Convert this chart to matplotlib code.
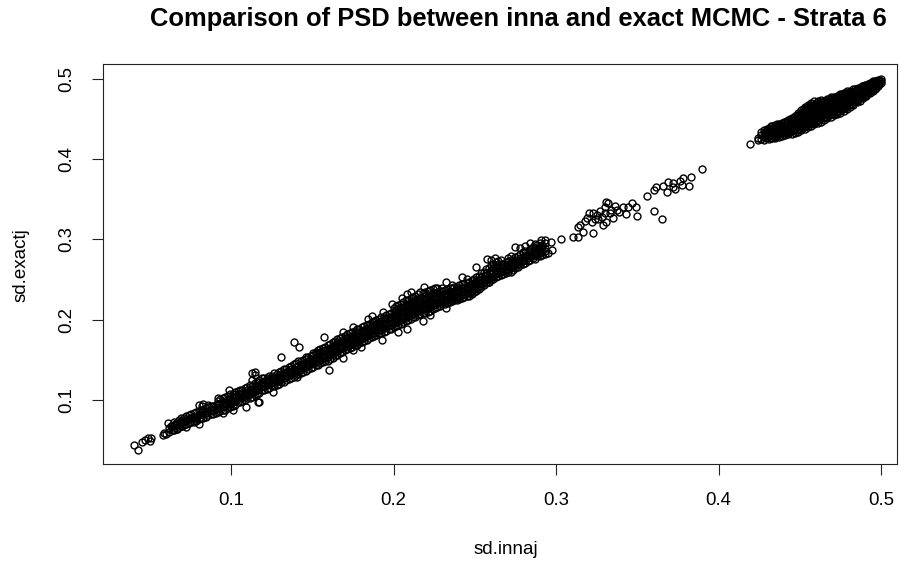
import matplotlib
matplotlib.use("Agg")
import matplotlib.pyplot as plt

plt.rcParams['font.family'] = ['Liberation Sans', 'DejaVu Sans']

title = "Comparison of PSD between inna and exact MCMC - Strata 6"
xlabel = "sd.innaj"
ylabel = "sd.exactj"
xticks = [0.1, 0.2, 0.3, 0.4, 0.5]
yticks = [0.1, 0.2, 0.3, 0.4, 0.5]

# Sparse points read individually
low_end = [(.040,.044),(.043,.038),(.045,.047),(.047,.050),(.049,.052),(.050,.049),(.051,.053),
           (.058,.056),(.059,.059),(.060,.057),(.063,.068),(.064,.063),(.066,.071),(.067,.064),
           (.069,.074),(.070,.068),(.072,.066),(.109,.091),(.117,.098),(.131,.154),(.139,.172),
           (.113,.133),(.115,.131),(.160,.137),(.082,.092),(.086,.094),(.142,.166),(.157,.178)]
sparse_high = [(.390,.388),(.383,.378),(.382,.367),(.378,.377),(.376,.373),(.3775,.368),(.373,.363),
               (.369,.372),(.372,.370),(.368,.359),(.366,.367),(.3615,.3655),(.360,.362),(.356,.354),
               (.360,.336),(.365,.326),(.350,.329),(.347,.3456),(.349,.341),(.344,.341),(.343,.332),
               (.341,.341),(.331,.347),(.332,.3456),(.330,.341),(.3375,.337),(.335,.327),(.333,.333),
               (.329,.318),(.328,.328),(.325,.331),(.323,.333),(.320,.333),(.319,.327),(.322,.322),
               (.323,.308),(.3165,.3095),(.315,.318),(.3135,.316),(.3135,.303),(.3105,.303),(.303,.300),
               (.297,.297),(.291,.2995),(.2975,.287),(.295,.283),(.327,.336),(.326,.325),(.331,.322),
               (.334,.337),(.339,.334),(.336,.342),(.330,.333),(.324,.326),(.318,.323),(.372,.365)]
# Rings sticking out of the band's edges
band_edge = [(.169,.185),(.175,.191),(.184,.201),(.187,.205),(.1935,.210),(.199,.220),(.205,.227),
             (.208,.232),(.211,.2347),(.219,.241),(.232,.247),(.242,.253),(.251,.266),(.2575,.276),
             (.2625,.277),(.169,.152),(.175,.162),(.180,.166),(.193,.175),(.203,.185),(.208,.1885),
             (.218,.1985),(.2225,.206),(.232,.215),(.239,.227),(.247,.233),(.259,.247),(.061,.071),
             (.080,.094),(.083,.095),(.092,.1025),(.099,.1125),(.115,.135),(.113,.125),(.080,.070),
             (.095,.084),(.101,.0875),(.1165,.0975),(.126,.110),(.1405,.129)]

# Main diagonal band, column by column
band_x = [.062,.065,.068,.071,.074,.077,.080,.083,.086,.089,
          .092,.095,.098,.101,.104,.107,.110,.113,.116,.119,
          .122,.125,.128,.131,.134,.137,.140,.143,.146,.149,
          .152,.155,.158,.161,.164,.167,.170,.173,.176,.179,
          .182,.185,.188,.191,.194,.197,.200,.203,.206,.209,
          .212,.215,.218,.221,.224,.227,.230,.233,.236,.239,
          .242,.245,.248,.251,.254,.257,.260,.263,.266,.269,
          .272,.275,.278,.281,.284,.287,.290,.293]
band_y = [[.060,.065],[.063,.069,.073],[.066,.071,.075],[.069,.074,.078],[.071,.076,.081],
          [.073,.078,.084],[.076,.081,.086],[.078,.083,.088],[.081,.086,.091],[.083,.088,.093],
          [.085,.090,.095,.099],[.087,.092,.097,.102],[.090,.095,.100,.105],[.092,.097,.102,.107],[.097,.102,.107,.111],
          [.099,.104,.109,.113],[.102,.107,.112,.116],[.104,.109,.114,.118],[.108,.113,.118,.123],[.112,.117,.122,.127],
          [.114,.119,.124,.128],[.117,.122,.127,.130],[.119,.124,.129,.132],[.122,.127,.132,.136],[.125,.130,.135,.139],
          [.128,.133,.138,.142],[.131,.136,.141,.146],[.134,.139,.144,.149],[.136,.141,.146,.151,.154],[.140,.145,.150,.155],
          [.143,.148,.152,.157,.160],[.146,.151,.155,.160,.163],[.148,.153,.157,.162,.166],[.151,.156,.160,.165,.170],[.155,.160,.164,.169,.174],
          [.158,.163,.167,.172,.177],[.162,.166,.171,.175,.180],[.165,.169,.174,.178,.183],[.168,.172,.177,.181,.186],[.171,.175,.180,.184,.189],
          [.174,.178,.183,.187,.192],[.177,.181,.186,.190,.195],[.180,.184,.189,.193,.198],[.183,.187,.192,.196,.201],[.185,.190,.195,.199,.204],
          [.188,.193,.198,.202,.207],[.191,.196,.201,.205,.210,.214],[.194,.199,.204,.208,.213,.218],[.197,.202,.207,.211,.216,.222],[.200,.205,.210,.214,.219,.225],
          [.203,.208,.213,.217,.222,.228],[.206,.211,.216,.220,.225,.232],[.208,.213,.218,.222,.227,.233],[.210,.215,.220,.225,.230,.236],[.213,.218,.222,.227,.232,.238],
          [.216,.221,.225,.229,.234,.239],[.219,.223,.227,.231,.236,.240],[.221,.225,.229,.233,.238],[.223,.227,.231,.235,.240,.243],[.225,.229,.233,.237,.241],
          [.227,.231,.235,.239,.244],[.229,.233,.237,.241,.246,.251],[.232,.236,.240,.244,.249],[.236,.240,.244,.248,.253],[.241,.245,.249,.253,.258],
          [.246,.250,.254,.258,.263],[.249,.253,.257,.262,.268,.274],[.253,.257,.261,.266,.272],[.256,.260,.264,.269,.275],[.258,.262,.267,.272],
          [.260,.265,.270,.274,.280],[.264,.268,.273,.278,.291],[.268,.272,.277,.282,.289],[.271,.275,.280,.286,.292],[.275,.279,.283,.288,.295],
          [.276,.281,.285,.290,.294],[.279,.283,.287,.291,.296],[.282,.286,.290,.295,.299]]

# Second, staggered reading of the band
band2_x = [.0635,.0665,.0695,.0725,.0755,.0785,.0815,.0845,.0875,.0905,
           .0935,.0965,.0995,.1025,.1055,.1085,.1115,.1145,.1175,.1205,
           .1235,.1265,.1295,.1325,.1355,.1385,.1415,.1445,.1475,.1505,
           .1535,.1565,.1595,.1625,.1655,.1685,.1715,.1745,.1775,.1805,
           .1835,.1865,.1895,.1925,.1955,.1985,.2015,.2045,.2075,.2105,
           .2135,.2165,.2195,.2225,.2255,.2285,.2315,.2345,.2375,.2405,
           .2435,.2465,.2495,.2525,.2555,.2585,.2615,.2645,.2675,.2705,
           .2735,.2765,.2795,.2825,.2855,.2885,.2915]
band2_y = [[.062,.067],[.064,.070],[.067,.072,.077],[.070,.075,.080],[.072,.077,.082],
           [.074,.079,.085],[.077,.082,.087],[.079,.084,.090],[.082,.087,.092],[.084,.089,.094],
           [.086,.091,.096,.101],[.088,.093,.098,.104],[.091,.096,.101,.107],[.094,.099,.104,.110],[.098,.103,.108,.113],
           [.100,.105,.110,.115],[.103,.108,.113,.119],[.106,.111,.116,.121],[.109,.114,.119,.125],[.113,.118,.123,.128],
           [.115,.120,.125,.130],[.118,.123,.128,.133],[.120,.125,.130,.135],[.123,.128,.133,.138],[.126,.131,.136,.141],
           [.129,.134,.139,.145],[.132,.137,.142,.148],[.135,.140,.145,.150],[.138,.143,.148,.153],[.141,.146,.151,.156,.159],
           [.144,.149,.154,.159,.162],[.147,.152,.157,.161,.165],[.149,.154,.159,.164,.168],[.152,.157,.162,.167,.172],[.156,.161,.166,.171,.176],
           [.160,.165,.169,.174,.179],[.163,.168,.172,.177,.182],[.166,.171,.175,.180,.185],[.169,.174,.178,.183,.188],[.172,.177,.181,.186,.191],
           [.175,.180,.184,.189,.194],[.178,.183,.187,.192,.197],[.181,.186,.190,.195,.200],[.183,.188,.193,.198,.203],[.186,.191,.196,.201,.206],
           [.189,.194,.199,.204,.209],[.192,.197,.202,.207,.212,.217],[.195,.200,.205,.210,.215,.220],[.198,.203,.208,.213,.218,.224],[.201,.206,.211,.216,.221,.227],
           [.204,.209,.214,.219,.224,.230],[.207,.212,.217,.222,.227,.234],[.209,.214,.219,.224,.229,.235],[.211,.216,.221,.226,.231,.237],[.214,.219,.224,.228,.233,.239],
           [.217,.222,.226,.230,.235],[.220,.224,.228,.232,.237],[.222,.226,.230,.234,.239],[.224,.228,.232,.236,.241],[.226,.230,.234,.238,.243],
           [.228,.232,.236,.240,.245],[.230,.234,.238,.242,.247],[.234,.238,.242,.246,.251],[.238,.242,.246,.250,.255],[.243,.247,.251,.255,.260],
           [.247,.251,.255,.260,.265],[.251,.255,.259,.264,.270],[.254,.258,.262,.267,.273],[.257,.261,.265,.270],[.259,.263,.268,.273,.277],
           [.262,.266,.271,.276],[.266,.270,.275,.280],[.269,.273,.278,.284],[.273,.277,.281,.286],[.277,.282,.286,.291],
           [.280,.284,.288,.293],[.281,.285,.289,.293]]

# Upper dense cluster, column by column
blob_x = [.4194,.424,.426,.428,.430,.432,.434,.436,.438,.440,
          .442,.444,.446,.448,.450,.452,.454,.456,.458,.460,
          .462,.464,.466,.468,.470,.472,.474,.476,.478,.480,
          .482,.484,.486,.488,.490,.492,.494,.496,.498,.500]
blob_y = [[.419],[.424,.427],[.425,.430,.434],[.424,.428,.433,.437],[.427,.431,.435,.438],
          [.427,.430,.434,.438,.441],[.428,.432,.436,.440],[.429,.433,.437,.441,.444],[.431,.435,.439,.443],[.431,.435,.439,.443,.446],
          [.433,.437,.441,.445,.448],[.434,.438,.442,.446,.450],[.435,.439,.443,.447,.451],[.436,.440,.444,.448,.452,.455],[.437,.441,.445,.449,.453,.457],
          [.439,.443,.447,.451,.455,.459,.462],[.441,.445,.449,.453,.457,.461,.464],[.444,.448,.452,.456,.460,.464,.467],[.445,.449,.453,.457,.461,.465,.468],[.447,.451,.455,.459,.463,.467,.470],
          [.449,.453,.457,.461,.465,.469],[.451,.455,.459,.463,.467,.471],[.453,.457,.461,.465,.469,.473],[.455,.459,.463,.467,.471,.475],[.457,.461,.465,.469,.473,.476],
          [.458,.462,.466,.470,.474,.477],[.460,.464,.468,.472,.476,.479],[.462,.466,.470,.474,.478,.481],[.464,.468,.472,.476,.480,.483],[.467,.471,.475,.479,.483],
          [.469,.473,.477,.481,.484],[.472,.476,.480,.484,.487],[.474,.478,.482,.486,.489],[.477,.481,.485,.489,.491],[.479,.483,.487,.491,.493],
          [.482,.486,.490,.494],[.485,.489,.492,.495],[.488,.491,.494,.497],[.491,.494,.497,.499],[.495,.498,.500]]

# Second, staggered reading of the cluster
blob2_x = [.429,.431,.433,.435,.437,.439,.441,.443,.445,.447,
           .449,.451,.453,.455,.457,.459,.461,.463,.465,.467,
           .469,.471,.473,.475,.477,.479,.481,.483,.485,.487,
           .489,.491,.493,.495,.497,.499]
blob2_y = [[.426,.430,.435],[.425,.429,.433,.437,.439],[.426,.430,.434,.438,.442],[.427,.431,.435,.439,.443],[.428,.432,.436,.440,.444],
           [.429,.433,.437,.441,.445],[.430,.434,.438,.442,.447],[.431,.435,.439,.443,.447,.449],[.432,.436,.441,.445,.449,.452],[.433,.437,.442,.446,.450,.454],
           [.434,.438,.443,.447,.451,.455,.458],[.436,.440,.445,.449,.453,.457,.461],[.438,.442,.446,.450,.454,.458,.462,.465],[.440,.444,.448,.452,.456,.460,.464,.468],[.442,.446,.450,.454,.458,.462,.466,.470],
           [.444,.448,.452,.456,.460,.464,.468,.472],[.445,.449,.453,.457,.461,.465,.469,.472],[.447,.451,.455,.459,.463,.467,.471,.474],[.449,.453,.457,.461,.465,.469,.473],[.451,.455,.459,.463,.467,.471,.475],
           [.453,.457,.461,.465,.469,.473,.477],[.455,.459,.463,.467,.471,.475,.478],[.456,.460,.464,.468,.472,.476,.479],[.458,.462,.466,.470,.474,.478,.481],[.460,.464,.468,.472,.476,.480,.483],
           [.462,.466,.470,.474,.478,.482,.485],[.465,.469,.473,.477,.481,.485],[.468,.472,.476,.480,.484,.487],[.471,.475,.479,.483,.487],[.473,.477,.481,.485,.489],
           [.476,.480,.484,.488,.491],[.479,.483,.487,.491,.493],[.482,.486,.490,.493,.495],[.485,.489,.492,.495,.497],[.489,.492,.495,.498],[.494,.497,.499]]

singles = low_end + sparse_high + band_edge
xs = [p[0] for p in singles]
ys = [p[1] for p in singles]
columns = (list(zip(band_x, band_y)) + list(zip(band2_x, band2_y))
           + list(zip(blob_x, blob_y)) + list(zip(blob2_x, blob2_y)))
for cx, cy in columns:
    for v in cy:
        xs.append(cx)
        ys.append(v)

W, H = 910, 565
fig = plt.figure(figsize=(W / 100, H / 100), dpi=100)
L, R, T, B = 103, 897, 64, 464
ax = fig.add_axes([L / W, 1 - B / H, (R - L) / W, (B - T) / H])
ax.plot(xs, ys, linestyle='none', marker='o', markersize=5.0,
        markerfacecolor='none', markeredgecolor='black', markeredgewidth=1.0)
ax.set_xlim(0.0212, 0.5098)
ax.set_ylim(0.0202, 0.5187)
ax.set_xticks(xticks)
ax.set_yticks(yticks)
ax.set_xticklabels([str(t) for t in xticks], fontsize=13.4)
ax.set_yticklabels([str(t) for t in yticks], fontsize=13.4, rotation=90, va='center')
ax.tick_params(length=8, width=0.8, pad=12, color='#222222')
for s in ax.spines.values():
    s.set_linewidth(0.8)
    s.set_color('#222222')

fig.text(518 / W, 1 - 25.7 / H, title, fontsize=18.4, fontweight='bold', ha='center', va='baseline')
fig.text(505.5 / W, 1 - 554 / H, xlabel, fontsize=13.5, ha='center', va='baseline')
fig.text(26 / W, 1 - 265 / H, ylabel, fontsize=13.5, rotation=90, ha='center', va='baseline',
         rotation_mode='anchor')

fig.savefig("out.png", dpi=100)
